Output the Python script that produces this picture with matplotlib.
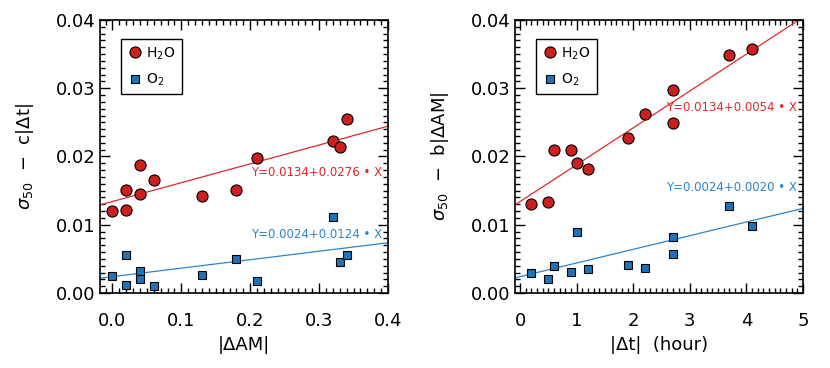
import matplotlib
matplotlib.use("Agg")
import matplotlib.pyplot as plt
import numpy as np
from matplotlib.ticker import MultipleLocator

plt.rcParams['font.family'] = ['DejaVu Sans']
plt.rcParams['mathtext.fontset'] = 'dejavusans'

# Left panel data: |ΔAM|
am_h2o_x = [0.00, 0.02, 0.02, 0.04, 0.04, 0.06, 0.13, 0.18, 0.21, 0.32, 0.33, 0.34]
am_h2o_y = [0.0120, 0.0121, 0.0151, 0.0145, 0.0187, 0.0165, 0.0142, 0.0151, 0.0198, 0.0223, 0.0214, 0.0255]
am_o2_x = [0.00, 0.02, 0.02, 0.04, 0.04, 0.06, 0.13, 0.18, 0.21, 0.32, 0.33, 0.34]
am_o2_y = [0.0025, 0.0055, 0.0012, 0.0032, 0.0021, 0.0010, 0.0026, 0.0050, 0.0018, 0.0112, 0.0045, 0.0055]
am_fit_h2o = (0.0134, 0.0276)
am_fit_o2 = (0.0024, 0.0124)

# Right panel data: |Δt| (hour)
dt_h2o_x = [0.2, 0.5, 0.6, 0.9, 1.0, 1.2, 1.9, 2.2, 2.7, 2.7, 3.7, 4.1]
dt_h2o_y = [0.0131, 0.0134, 0.0210, 0.0210, 0.0190, 0.0182, 0.0227, 0.0262, 0.0298, 0.0249, 0.0349, 0.0358]
dt_o2_x = [0.2, 0.5, 0.6, 0.9, 1.0, 1.2, 1.9, 2.2, 2.7, 2.7, 3.7, 4.1]
dt_o2_y = [0.0030, 0.0020, 0.0040, 0.0031, 0.0090, 0.0035, 0.0041, 0.0036, 0.0082, 0.0057, 0.0128, 0.0098]
dt_fit_h2o = (0.0134, 0.0054)
dt_fit_o2 = (0.0024, 0.0020)

red_fill = '#cc1f1f'
blue_fill = '#1f73b8'
red_line = '#e0282d'
blue_line = '#2a85cc'

fig = plt.figure(figsize=(8.3, 3.68), dpi=100)
ax1 = fig.add_axes([0.1205, 0.2038, 0.347, 0.742])
ax2 = fig.add_axes([0.6205, 0.2038, 0.347, 0.742])


def style(ax, xmaj, xmin_, ylabel, xlabel, xfmt):
    ax.set_ylim(0, 0.04)
    ax.yaxis.set_major_locator(MultipleLocator(0.01))
    ax.yaxis.set_minor_locator(MultipleLocator(0.001))
    ax.xaxis.set_major_locator(MultipleLocator(xmaj))
    ax.xaxis.set_minor_locator(MultipleLocator(xmin_))
    ax.tick_params(which='both', direction='in', top=True, right=True, width=1.0, labelsize=13)
    ax.tick_params(which='major', length=7)
    ax.tick_params(which='minor', length=3.5)
    ax.tick_params(axis='x', pad=14)
    ax.yaxis.set_major_formatter(plt.FuncFormatter(lambda v, p: f"{v:.2f}"))
    ax.xaxis.set_major_formatter(plt.FuncFormatter(xfmt))
    for s in ax.spines.values():
        s.set_linewidth(1.2)
    ax.set_ylabel(ylabel, fontsize=13, labelpad=14)
    ax.set_xlabel(xlabel, fontsize=13, labelpad=4)


def panel(ax, hx, hy, ox, oy, fh, fo, xlim, th, to):
    ax.set_xlim(*xlim)
    xx = np.array(xlim)
    ax.plot(xx, fh[0] + fh[1] * xx, color=red_line, lw=0.9, zorder=2)
    ax.plot(xx, fo[0] + fo[1] * xx, color=blue_line, lw=0.9, zorder=2)
    ax.plot(hx, hy, 'o', ms=8, mfc=red_fill, mec='black', mew=0.8, ls='none', label='H$_2$O', zorder=3)
    ax.plot(ox, oy, 's', ms=5.6, mfc=blue_fill, mec='black', mew=0.8, ls='none', label='O$_2$', zorder=3)
    ax.text(0.98, th, f"Y={fh[0]:.4f}+{fh[1]:.4f} \u2022 X", color=red_line, fontsize=8.5,
            ha='right', va='center', transform=ax.transAxes)
    ax.text(0.98, to, f"Y={fo[0]:.4f}+{fo[1]:.4f} \u2022 X", color=blue_line, fontsize=8.5,
            ha='right', va='center', transform=ax.transAxes)
    leg = ax.legend(loc='upper left', bbox_to_anchor=(0.072, 0.93), fancybox=False,
                    edgecolor='black', framealpha=1, fontsize=10, handletextpad=0.2,
                    borderpad=0.45, labelspacing=0.7, handlelength=1.2, borderaxespad=0)
    leg.get_frame().set_linewidth(1.0)


panel(ax1, am_h2o_x, am_h2o_y, am_o2_x, am_o2_y, am_fit_h2o, am_fit_o2, (-0.018, 0.4),
      (293 - 173) / 272, (293 - 235) / 272)
panel(ax2, dt_h2o_x, dt_h2o_y, dt_o2_x, dt_o2_y, dt_fit_h2o, dt_fit_o2, (-0.09, 5.0),
      (293 - 108) / 272, (293 - 188) / 272)

style(ax1, 0.1, 0.01, "$\\sigma_{50}$  \u2212  c|\u0394t|", "|\u0394AM|", lambda v, p: f"{v:.1f}")
style(ax2, 1, 0.1, "$\\sigma_{50}$  \u2212  b|\u0394AM|", "|\u0394t|  (hour)", lambda v, p: f"{v:.0f}")

fig.savefig("out.png", dpi=100)
